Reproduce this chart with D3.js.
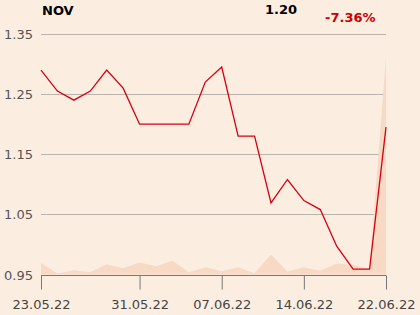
<!DOCTYPE html>
<html>
<head>
<meta charset="utf-8">
<script src="https://cdn.jsdelivr.net/npm/d3@7"></script>
<style>
  html, body { margin: 0; padding: 0; background: #fcede1; }
  svg { display: block; font-family: 'DejaVu Sans', sans-serif; }
</style>
</head>
<body>
<script>
const dates = ['23.05.22', '24.05.22', '25.05.22', '26.05.22', '27.05.22', '30.05.22', '31.05.22',
  '01.06.22', '02.06.22', '03.06.22', '06.06.22', '07.06.22', '08.06.22', '09.06.22', '10.06.22',
  '13.06.22', '14.06.22', '15.06.22', '16.06.22', '17.06.22', '21.06.22', '22.06.22'];
const prices = [1.29, 1.255, 1.24, 1.255, 1.29, 1.26, 1.20, 1.20, 1.20, 1.20, 1.27, 1.295,
  1.18, 1.18, 1.069, 1.108, 1.073, 1.058, 0.997, 0.959, 0.959, 1.195];
const volumes = [11.5, 1, 4.3, 2.3, 10.3, 6.3, 12, 8.3, 13.7, 2.3, 7.3, 3.3,
  7.3, 1.3, 20, 3, 7.3, 3.7, 11, 9.5, 5.5, 217];
const yTicks = [0.95, 1.05, 1.15, 1.25, 1.35];
const xTickLabels = ['23.05.22', '31.05.22', '07.06.22', '14.06.22', '22.06.22'];

const w = 420;
const h = 315;
const mLeft = 41, mRight = 386, mTop = 34, mBottom = 274.5;

const svg = d3.select('body').append('svg')
  .attr('width', w)
  .attr('height', h);

const x = d3.scalePoint().domain(dates).range([mLeft, mRight]);
const y = d3.scaleLinear().domain([0.95, 1.35]).range([mBottom, mTop]);
const yv = d3.scaleLinear().domain([0, 217]).range([mBottom, mBottom - 217]);

// grid
svg.append('g')
  .selectAll('line')
  .data(yTicks.filter(d => d > 0.95))
  .enter()
  .append('line')
  .attr('x1', mLeft)
  .attr('x2', mRight)
  .attr('y1', d => Math.round(y(d)) + 0.5)
  .attr('y2', d => Math.round(y(d)) + 0.5)
  .attr('stroke', '#b9b4ae')
  .attr('stroke-width', 1);

// volume area
const area = d3.area()
  .x(d => x(d[0]))
  .y0(mBottom)
  .y1(d => yv(d[1]));
svg.append('path')
  .datum(dates.map((d, i) => [d, volumes[i]]))
  .attr('d', area)
  .attr('fill', '#f8d9c4');

// price line
const line = d3.line()
  .x(d => x(d[0]))
  .y(d => y(d[1]));
svg.append('path')
  .datum(dates.map((d, i) => [d, prices[i]]))
  .attr('d', line)
  .attr('fill', 'none')
  .attr('stroke', '#d7000f')
  .attr('stroke-width', 1.3)
  .attr('stroke-linejoin', 'miter');

// y labels
svg.append('g')
  .selectAll('text')
  .data(yTicks)
  .enter()
  .append('text')
  .attr('x', 33)
  .attr('y', d => y(d) + 5)
  .attr('text-anchor', 'end')
  .attr('font-size', 13)
  .attr('fill', '#555')
  .text(d => d.toFixed(2));

// x axis
const xAxis = d3.axisBottom(x)
  .tickValues(xTickLabels)
  .tickSize(14)
  .tickPadding(10);
const gx = svg.append('g')
  .attr('transform', `translate(0,${Math.round(mBottom) + 0.5})`)
  .call(xAxis);
gx.select('.domain').attr('stroke', '#777').attr('d', `M${mLeft},0H${mRight}`);
gx.selectAll('.tick line').attr('stroke', '#777');
gx.selectAll('.tick text')
  .attr('font-size', 13)
  .attr('font-family', "'DejaVu Sans', sans-serif")
  .attr('fill', '#444');

// header
svg.append('text')
  .attr('x', 42).attr('y', 15)
  .attr('font-size', 13).attr('font-weight', 'bold').attr('fill', '#000')
  .text('NOV');
svg.append('text')
  .attr('x', 265).attr('y', 14)
  .attr('font-size', 13).attr('font-weight', 'bold').attr('fill', '#000')
  .text('1.20');
svg.append('text')
  .attr('x', 325).attr('y', 22)
  .attr('font-size', 13).attr('font-weight', 'bold').attr('fill', '#cc0000')
  .text('-7.36%');
</script>
</body>
</html>
